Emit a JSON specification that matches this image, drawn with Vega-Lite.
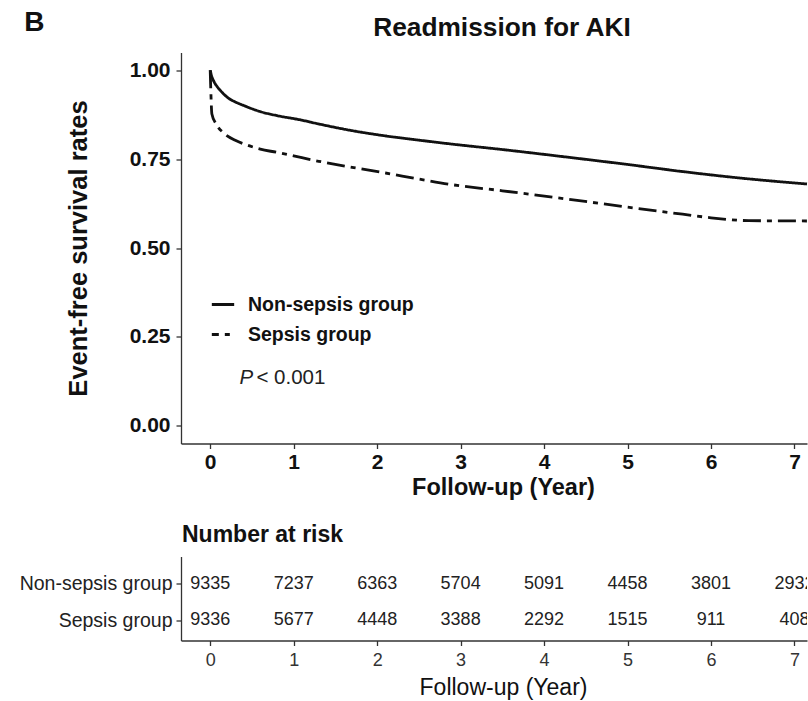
{
  "$schema": "https://vega.github.io/schema/vega-lite/v6.json",
  "padding": {"left": 19, "top": 8.5, "right": 0, "bottom": 0},
  "background": "white",
  "config": {
    "font": "Liberation Sans",
    "view": {"stroke": null},
    "axis": {"domainColor": "#333", "tickColor": "#333", "domainWidth": 1.3, "tickWidth": 1.3, "grid": false, "labelColor": "#111", "titleColor": "#111", "labelFlush": false}
  },
  "title": {"text": "B", "anchor": "start", "frame": "bounds", "fontSize": 28, "fontWeight": "bold", "baseline": "alphabetic", "offset": -44, "dx": 5, "color": "#111"},
  "datasets": {
    "curves": [
      {"group": "Non-sepsis group", "t": 0, "surv": 1.0},
      {"group": "Non-sepsis group", "t": 0.02, "surv": 0.982},
      {"group": "Non-sepsis group", "t": 0.05, "surv": 0.966},
      {"group": "Non-sepsis group", "t": 0.09, "surv": 0.952},
      {"group": "Non-sepsis group", "t": 0.15, "surv": 0.936},
      {"group": "Non-sepsis group", "t": 0.21, "surv": 0.923},
      {"group": "Non-sepsis group", "t": 0.3, "surv": 0.911},
      {"group": "Non-sepsis group", "t": 0.41, "surv": 0.9},
      {"group": "Non-sepsis group", "t": 0.61, "surv": 0.883},
      {"group": "Non-sepsis group", "t": 0.81, "surv": 0.872},
      {"group": "Non-sepsis group", "t": 1.09, "surv": 0.86},
      {"group": "Non-sepsis group", "t": 1.28, "surv": 0.85},
      {"group": "Non-sepsis group", "t": 1.68, "surv": 0.831},
      {"group": "Non-sepsis group", "t": 2.08, "surv": 0.816},
      {"group": "Non-sepsis group", "t": 2.48, "surv": 0.804},
      {"group": "Non-sepsis group", "t": 2.87, "surv": 0.793},
      {"group": "Non-sepsis group", "t": 3.5, "surv": 0.777},
      {"group": "Non-sepsis group", "t": 4.3, "surv": 0.755},
      {"group": "Non-sepsis group", "t": 5.0, "surv": 0.735},
      {"group": "Non-sepsis group", "t": 5.66, "surv": 0.715},
      {"group": "Non-sepsis group", "t": 6.3, "surv": 0.698},
      {"group": "Non-sepsis group", "t": 7.15, "surv": 0.68},
      {"group": "Sepsis group", "t": 0, "surv": 1.0},
      {"group": "Sepsis group", "t": 0.005, "surv": 0.96},
      {"group": "Sepsis group", "t": 0.02, "surv": 0.877},
      {"group": "Sepsis group", "t": 0.07, "surv": 0.849},
      {"group": "Sepsis group", "t": 0.17, "surv": 0.822},
      {"group": "Sepsis group", "t": 0.3, "surv": 0.803},
      {"group": "Sepsis group", "t": 0.45, "surv": 0.789},
      {"group": "Sepsis group", "t": 0.6, "surv": 0.778},
      {"group": "Sepsis group", "t": 0.8, "surv": 0.769},
      {"group": "Sepsis group", "t": 1.0, "surv": 0.759},
      {"group": "Sepsis group", "t": 1.3, "surv": 0.744},
      {"group": "Sepsis group", "t": 1.7, "surv": 0.727},
      {"group": "Sepsis group", "t": 2.1, "surv": 0.711},
      {"group": "Sepsis group", "t": 2.5, "surv": 0.694},
      {"group": "Sepsis group", "t": 2.9, "surv": 0.678},
      {"group": "Sepsis group", "t": 3.5, "surv": 0.661},
      {"group": "Sepsis group", "t": 4.3, "surv": 0.637},
      {"group": "Sepsis group", "t": 5.0, "surv": 0.615},
      {"group": "Sepsis group", "t": 5.66, "surv": 0.595},
      {"group": "Sepsis group", "t": 6.0, "surv": 0.585},
      {"group": "Sepsis group", "t": 6.45, "surv": 0.577},
      {"group": "Sepsis group", "t": 7.15, "surv": 0.576}
    ],
    "risk": [
      {"group": "Non-sepsis group", "year": 0, "n": 9335},
      {"group": "Non-sepsis group", "year": 1, "n": 7237},
      {"group": "Non-sepsis group", "year": 2, "n": 6363},
      {"group": "Non-sepsis group", "year": 3, "n": 5704},
      {"group": "Non-sepsis group", "year": 4, "n": 5091},
      {"group": "Non-sepsis group", "year": 5, "n": 4458},
      {"group": "Non-sepsis group", "year": 6, "n": 3801},
      {"group": "Non-sepsis group", "year": 7, "n": 2932},
      {"group": "Sepsis group", "year": 0, "n": 9336},
      {"group": "Sepsis group", "year": 1, "n": 5677},
      {"group": "Sepsis group", "year": 2, "n": 4448},
      {"group": "Sepsis group", "year": 3, "n": 3388},
      {"group": "Sepsis group", "year": 4, "n": 2292},
      {"group": "Sepsis group", "year": 5, "n": 1515},
      {"group": "Sepsis group", "year": 6, "n": 911},
      {"group": "Sepsis group", "year": 7, "n": 408}
    ],
    "note": [{"label": "P < 0.001"}]
  },
  "spacing": 24,
  "vconcat": [
    {
      "width": 626,
      "height": 391,
      "title": {"text": "Readmission for AKI", "fontSize": 26.3, "fontWeight": "bold", "anchor": "middle", "frame": "group", "dx": 8, "offset": -10, "baseline": "alphabetic", "color": "#111"},
      "layer": [
        {
          "data": {"name": "curves"},
          "mark": {"type": "line", "strokeWidth": 2.8, "color": "#111", "interpolate": "monotone"},
          "encoding": {
            "x": {"field": "t", "type": "quantitative", "scale": {"domain": [-0.35, 7.15], "nice": false, "zero": false},
                  "axis": {"values": [0, 1, 2, 3, 4, 5, 6, 7], "format": "d", "title": "Follow-up (Year)", "titleFontSize": 23.5, "titleFontWeight": "bold", "titleX": 322, "labelFontSize": 21, "labelFontWeight": "bold", "tickSize": 5, "labelPadding": 3, "titlePadding": 3}},
            "y": {"field": "surv", "type": "quantitative", "scale": {"domain": [-0.05, 1.05], "nice": false, "zero": false},
                  "axis": {"values": [0, 0.25, 0.5, 0.75, 1], "format": ".2f", "title": "Event-free survival rates", "titleFontSize": 25.5, "titleFontWeight": "bold", "labelFontSize": 21, "labelFontWeight": "bold", "tickSize": 5, "labelPadding": 6, "titlePadding": 38}},
            "strokeDash": {"field": "group", "type": "nominal",
                  "scale": {"domain": ["Non-sepsis group", "Sepsis group"], "range": [[1, 0], [18, 6, 5, 6]]},
                  "legend": {"orient": "none", "legendX": 29, "legendY": 239, "title": null, "symbolType": "stroke", "symbolSize": 500, "symbolStrokeWidth": 2.8, "symbolStrokeColor": "#111", "symbolDashOffset": 11, "labelFontSize": 19.5, "labelFontWeight": "bold", "labelColor": "#111", "labelOffset": 12, "labelLimit": 400, "rowPadding": 7}}
          }
        },
        {
          "data": {"name": "note"},
          "mark": {"type": "text", "align": "left", "baseline": "middle", "fontStyle": "italic", "fontSize": 20.5, "color": "#222"},
          "encoding": {"x": {"datum": 0.35, "type": "quantitative"}, "y": {"datum": 0.133, "type": "quantitative"}, "text": {"value": "P"}}
        },
        {
          "data": {"name": "note"},
          "mark": {"type": "text", "align": "left", "baseline": "middle", "fontSize": 20.5, "color": "#222", "dx": 17},
          "encoding": {"x": {"datum": 0.35, "type": "quantitative"}, "y": {"datum": 0.133, "type": "quantitative"}, "text": {"value": "< 0.001"}}
        }
      ]
    },
    {
      "width": 626,
      "height": 84,
      "title": {"text": "Number at risk", "anchor": "start", "frame": "group", "fontSize": 23, "fontWeight": "bold", "baseline": "alphabetic", "offset": -8.5, "color": "#111", "dx": 1},
      "data": {"name": "risk"},
      "mark": {"type": "text", "fontSize": 18, "color": "#222", "clip": true},
      "encoding": {
        "x": {"field": "year", "type": "quantitative", "scale": {"domain": [-0.35, 7.15], "nice": false, "zero": false},
              "axis": {"values": [0, 1, 2, 3, 4, 5, 6, 7], "format": "d", "title": "Follow-up (Year)", "titleFontSize": 23, "titleFontWeight": "normal", "titleX": 322, "labelFontSize": 18, "labelColor": "#333", "tickSize": 5, "labelPadding": 6, "titlePadding": 7}},
        "y": {"field": "group", "type": "nominal", "scale": {"type": "point", "domain": ["Non-sepsis group", "Sepsis group"], "padding": 0.65, "align": 0.57},
              "axis": {"title": null, "labelFontSize": 19.5, "labelColor": "#222", "tickSize": 5, "labelPadding": 4}},
        "text": {"field": "n", "type": "quantitative"}
      }
    }
  ]
}
